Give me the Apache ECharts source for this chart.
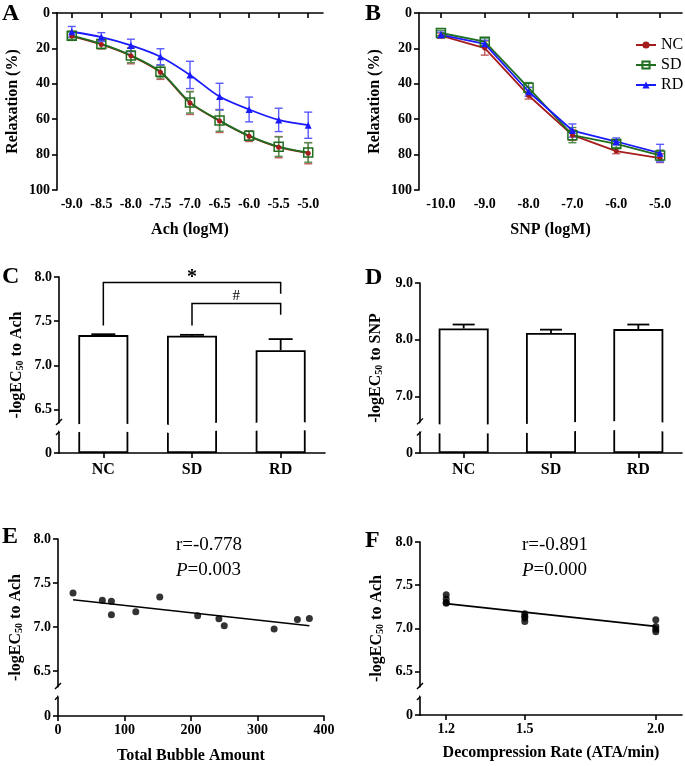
<!DOCTYPE html>
<html><head><meta charset="utf-8">
<script src="https://cdn.jsdelivr.net/npm/echarts@6/dist/echarts.min.js"></script>
<style>html,body{margin:0;padding:0;background:#fff}#c{width:685px;height:766px}</style>
</head><body><div id="c"></div>
<script>
// ---------- DATA ----------
const achX = [-9.0, -8.5, -8.0, -7.5, -7.0, -6.5, -6.0, -5.5, -5.0];
const achNC = [13.0, 17.8, 24.2, 33.5, 50.8, 61.0, 69.6, 75.8, 79.2];
const achNCerr = [2.5, 2.5, 4.5, 4.0, 6.5, 6.5, 3.0, 6.0, 6.0];
const achSD = [12.8, 17.5, 24.0, 33.2, 50.5, 60.8, 69.4, 75.5, 78.8];
const achSDerr = [2.0, 2.5, 4.0, 3.5, 6.0, 6.0, 2.5, 5.5, 5.5];
const achRD = [10.6, 13.6, 18.3, 24.7, 35.0, 47.2, 54.5, 60.4, 63.4];
const achRDerr = [3.0, 2.5, 3.5, 4.5, 7.7, 7.5, 7.0, 6.6, 7.4];

const snpX = [-10.0, -9.0, -8.0, -7.0, -6.0, -5.0];
const snpNC = [12.8, 19.8, 46.6, 69.0, 78.0, 82.0];
const snpNCerr = [1.5, 4.0, 2.0, 3.0, 1.5, 2.5];
const snpSD = [11.3, 16.2, 42.3, 69.0, 74.0, 80.5];
const snpSDerr = [1.5, 2.0, 3.0, 4.3, 2.0, 3.0];
const snpRD = [12.3, 17.4, 44.5, 66.4, 72.6, 79.2];
const snpRDerr = [1.5, 2.0, 2.5, 3.7, 2.0, 5.0];

const groups = ['NC', 'SD', 'RD'];
const achEC50 = [7.343, 7.336, 7.173];
const achEC50err = [0.01, 0.01, 0.125];
const snpEC50 = [8.20, 8.12, 8.19];
const snpEC50err = [0.07, 0.06, 0.08];

const sigBrackets = [[0, 2, 7.937, 7.453, 7.81], [1, 2, 7.70, 7.453, 7.574]];
const sigLabels = ['*', '#'];

const bubbleAmount = [22.6, 66.7, 80.3, 80.3, 117, 153, 210, 242, 250, 325, 360, 378];
const bubbleEC50 = [7.386, 7.303, 7.292, 7.140, 7.174, 7.341, 7.129, 7.095, 7.015, 6.977, 7.087, 7.098];
const fitE = [[22.6, 7.31], [378, 7.015]];

const rateX = [1.2, 1.2, 1.2, 1.2, 1.5, 1.5, 1.5, 1.5, 2.0, 2.0, 2.0, 2.0];
const rateEC50 = [7.39, 7.34, 7.30, 7.29, 7.17, 7.14, 7.12, 7.08, 7.10, 7.02, 6.99, 6.96];
const fitF = [[1.2, 7.286], [2.0, 7.023]];

const relaxTicks = [0, 20, 40, 60, 80, 100];
const rateTicks = [1.2, 1.5, 2.0];
const achTicksY = [0, 6.5, 7.0, 7.5, 8.0];
const snpTicksY = [0, 7.0, 8.0, 9.0];

// axis breaks [start, end] of each broken y axis (C, D, E, F)
const breakC = [0.25, 6.35];
const breakD = [0.38, 6.55];
const breakE = [0.23, 6.32];
const breakF = [0.22, 6.32];

// ---------- STYLE ----------
const FONT = '"Liberation Serif","Times New Roman",serif';
const C_NC = '#a51c1c', C_SD = '#1f6e1f', C_RD = '#1a1aff';
const C_NCe = '#c05a5a', C_SDe = '#4f8f4f', C_RDe = '#5a5aff';
const AL = {show: true, lineStyle: {color: '#000', width: 1.6}};
const AT = (cv) => ({show: true, length: 5, inside: false, lineStyle: {color: '#000', width: 1.6}, customValues: cv});
const LBL = (extra) => Object.assign({color: '#000', fontFamily: FONT, fontWeight: 'bold', fontSize: 14, margin: 7}, extra || {});
const NAME = {color: '#000', fontFamily: FONT, fontWeight: 'bold', fontSize: 16};
const NAMEEC = {color: '#000', fontFamily: FONT, fontWeight: 'bold', fontSize: 16,
  rich: {sub: {fontFamily: FONT, fontWeight: 'bold', fontSize: 10, padding: [7, 0, 0, 0]}}};
const f1 = v => (v === 0 ? '0' : v.toFixed(1));
const f0 = v => String(v);
const BREAKAREA = {show: true, itemStyle: {color: '#fff', borderWidth: 0, opacity: 1}, zigzagAmplitude: 2, zigzagMinSpan: 12, zigzagMaxSpan: 24, expandOnClick: false};

function pts(xs, ys, es) { return xs.map((x, i) => es ? [x, ys[i], es[i]] : [x, ys[i]]); }

function errSeries(xi, yi, data, color, capHalf, upOnly, lw) {
  return {
    type: 'custom', xAxisIndex: xi, yAxisIndex: yi, data: data, silent: true, z: 1,
    encode: {x: 0, y: 1},
    renderItem: function (params, api) {
      const x = api.value(0), y = api.value(1), e = api.value(2);
      const a = api.coord([x, y + e]);
      const b = api.coord([x, upOnly ? y : y - e]);
      const st = {stroke: color, lineWidth: lw || 1.4};
      const ch = [
        {type: 'line', shape: {x1: a[0], y1: a[1], x2: b[0], y2: b[1]}, style: st},
        {type: 'line', shape: {x1: a[0] - capHalf, y1: a[1], x2: a[0] + capHalf, y2: a[1]}, style: st}
      ];
      if (!upOnly) ch.push({type: 'line', shape: {x1: b[0] - capHalf, y1: b[1], x2: b[0] + capHalf, y2: b[1]}, style: st});
      return {type: 'group', children: ch};
    }
  };
}

// "//" marks on a broken y axis, placed through the axis scale at the break's edges
function breakMarks(xi, yi, xv, brk) {
  return {
    type: 'custom', xAxisIndex: xi, yAxisIndex: yi, data: [[xv, brk[0], brk[1]]], silent: true, z: 20,
    encode: {x: 0, y: 1},
    renderItem: function (params, api) {
      const x0 = params.coordSys.x;
      const lo = api.coord([api.value(0), api.value(1)])[1];
      const hi = api.coord([api.value(0), api.value(2)])[1];
      const st = {stroke: '#000', lineWidth: 1.4};
      return {type: 'group', children: [
        {type: 'line', shape: {x1: x0 - 3, y1: hi + 2, x2: x0 + 3, y2: hi - 4}, style: st},
        {type: 'line', shape: {x1: x0 - 3, y1: lo + 4, x2: x0 + 3, y2: lo - 2}, style: st}
      ]};
    }
  };
}

function lineSeries(name, xi, yi, data, color, symbol, size, smooth, hollow) {
  return {
    type: 'line', name: name, xAxisIndex: xi, yAxisIndex: yi, data: data, smooth: smooth, z: 3,
    symbol: symbol, symbolSize: size, showSymbol: true,
    lineStyle: {color: color, width: 1.8},
    itemStyle: hollow ? {color: 'rgba(255,255,255,0)', borderColor: color, borderWidth: 1.5} : {color: color},
    emphasis: {disabled: true}
  };
}

const option = {
  backgroundColor: '#fff',
  animation: false,
  textStyle: {fontFamily: FONT},
  grid: [
    {left: 57, top: 13, width: 266, height: 177},
    {left: 419, top: 13, width: 263, height: 177},
    {left: 59, top: 277, width: 266, height: 176},
    {left: 420, top: 283, width: 262, height: 170},
    {left: 58, top: 539, width: 266, height: 177},
    {left: 420, top: 542, width: 262, height: 173}
  ],
  legend: {
    data: groups, orient: 'vertical', left: 630, top: 32, itemWidth: 20, itemHeight: 9, itemGap: 4,
    textStyle: {fontFamily: FONT, fontSize: 16, color: '#000', lineHeight: 16}, selectedMode: false
  },
  xAxis: [
    {gridIndex: 0, type: 'value', min: -9.25, max: -4.75, axisLine: AL, axisTick: AT(achX),
      axisLabel: LBL({customValues: achX, formatter: f1}), splitLine: {show: false},
      name: 'Ach (logM)', nameLocation: 'middle', nameGap: 32, nameTextStyle: NAME},
    {gridIndex: 1, type: 'value', min: -10.5, max: -4.5, axisLine: AL, axisTick: AT(snpX),
      axisLabel: LBL({customValues: snpX, formatter: f1}), splitLine: {show: false},
      name: 'SNP (logM)', nameLocation: 'middle', nameGap: 32, nameTextStyle: NAME},
    {gridIndex: 2, type: 'category', data: groups, axisLine: AL,
      axisTick: {show: true, alignWithLabel: true, length: 5, lineStyle: {color: '#000', width: 1.6}},
      axisLabel: LBL({fontSize: 16, margin: 9})},
    {gridIndex: 3, type: 'category', data: groups, axisLine: AL,
      axisTick: {show: true, alignWithLabel: true, length: 5, lineStyle: {color: '#000', width: 1.6}},
      axisLabel: LBL({fontSize: 16, margin: 9})},
    {gridIndex: 4, type: 'value', min: 0, max: 400, interval: 100, axisLine: AL, axisTick: AT(),
      axisLabel: LBL({formatter: f0}), splitLine: {show: false},
      name: 'Total Bubble Amount', nameLocation: 'middle', nameGap: 32, nameTextStyle: NAME},
    {gridIndex: 5, type: 'value', min: 1.1, max: 2.1, axisLine: AL, axisTick: AT(rateTicks),
      axisLabel: LBL({customValues: rateTicks, formatter: f1}), splitLine: {show: false},
      name: 'Decompression Rate (ATA/min)', nameLocation: 'middle', nameGap: 30, nameTextStyle: NAME}
  ],
  yAxis: [
    {gridIndex: 0, type: 'value', inverse: true, min: 0, max: 100, interval: 20, axisLine: AL, axisTick: AT(),
      axisLabel: LBL({formatter: f0}), splitLine: {show: false},
      name: 'Relaxation (%)', nameLocation: 'middle', nameGap: 36, nameRotate: 90, nameTextStyle: NAME},
    {gridIndex: 1, type: 'value', inverse: true, min: 0, max: 100, interval: 20, axisLine: AL, axisTick: AT(),
      axisLabel: LBL({formatter: f0}), splitLine: {show: false},
      name: 'Relaxation (%)', nameLocation: 'middle', nameGap: 36, nameRotate: 90, nameTextStyle: NAME},
    {gridIndex: 2, type: 'value', min: 0, max: 8, interval: 0.5, axisLine: AL, axisTick: AT(achTicksY),
      axisLabel: LBL({customValues: achTicksY, formatter: f1}), splitLine: {show: false},
      breaks: [{start: breakC[0], end: breakC[1], gap: '4.5%'}], breakArea: BREAKAREA,
      name: '-logEC{sub|50} to Ach', nameLocation: 'middle', nameGap: 34, nameRotate: 90, nameTextStyle: NAMEEC},
    {gridIndex: 3, type: 'value', min: 0, max: 9, interval: 1, axisLine: AL, axisTick: AT(snpTicksY),
      axisLabel: LBL({customValues: snpTicksY, formatter: f1}), splitLine: {show: false},
      breaks: [{start: breakD[0], end: breakD[1], gap: '5.3%'}], breakArea: BREAKAREA,
      name: '-logEC{sub|50} to SNP', nameLocation: 'middle', nameGap: 36, nameRotate: 90, nameTextStyle: NAMEEC},
    {gridIndex: 4, type: 'value', min: 0, max: 8, interval: 0.5, axisLine: AL, axisTick: AT(achTicksY),
      axisLabel: LBL({customValues: achTicksY, formatter: f1}), splitLine: {show: false},
      breaks: [{start: breakE[0], end: breakE[1], gap: '5%'}], breakArea: BREAKAREA,
      name: '-logEC{sub|50} to Ach', nameLocation: 'middle', nameGap: 34, nameRotate: 90, nameTextStyle: NAMEEC},
    {gridIndex: 5, type: 'value', min: 0, max: 8, interval: 0.5, axisLine: AL, axisTick: AT(achTicksY),
      axisLabel: LBL({customValues: achTicksY, formatter: f1}), splitLine: {show: false},
      breaks: [{start: breakF[0], end: breakF[1], gap: '5.2%'}], breakArea: BREAKAREA,
      name: '-logEC{sub|50} to Ach', nameLocation: 'middle', nameGap: 35, nameRotate: 90, nameTextStyle: NAMEEC}
  ],
  series: [
    // A
    errSeries(0, 0, pts(achX, achNC, achNCerr), C_NCe, 4),
    errSeries(0, 0, pts(achX, achSD, achSDerr), C_SDe, 4),
    errSeries(0, 0, pts(achX, achRD, achRDerr), C_RDe, 4),
    lineSeries('NC', 0, 0, pts(achX, achNC), C_NC, 'circle', 5, 0.3),
    lineSeries('SD', 0, 0, pts(achX, achSD), C_SD, 'rect', 9, 0.3, true),
    lineSeries('RD', 0, 0, pts(achX, achRD), C_RD, 'triangle', 7, 0.3),
    // B
    errSeries(1, 1, pts(snpX, snpNC, snpNCerr), C_NCe, 4),
    errSeries(1, 1, pts(snpX, snpSD, snpSDerr), C_SDe, 4),
    errSeries(1, 1, pts(snpX, snpRD, snpRDerr), C_RDe, 4),
    lineSeries('NC', 1, 1, pts(snpX, snpNC), C_NC, 'circle', 5, false),
    lineSeries('SD', 1, 1, pts(snpX, snpSD), C_SD, 'rect', 9, false, true),
    lineSeries('RD', 1, 1, pts(snpX, snpRD), C_RD, 'triangle', 7, false),
    // C
    {type: 'bar', xAxisIndex: 2, yAxisIndex: 2, data: achEC50, barWidth: 50, z: 2,
      itemStyle: {color: '#fff', borderColor: '#000', borderWidth: 1.8}, emphasis: {disabled: true}},
    errSeries(2, 2, groups.map((g, i) => [i, achEC50[i], achEC50err[i]]), '#000', 12, true, 1.8),
    {type: 'custom', xAxisIndex: 2, yAxisIndex: 2, data: sigBrackets, silent: true, encode: {x: 0, y: 2},
      renderItem: function (params, api) {
        const a = api.value(0), b = api.value(1), top = api.value(2), yl = api.value(3), yr = api.value(4);
        const p1 = api.coord([a, yl]), p2 = api.coord([a, top]), p3 = api.coord([b, top]), p4 = api.coord([b, yr]);
        const star = params.dataIndex === 0;
        return {type: 'group', children: [
          {type: 'polyline', shape: {points: [p1, p2, p3, p4]}, style: {stroke: '#000', lineWidth: 1.5, fill: null}},
          {type: 'text', x: (p2[0] + p3[0]) / 2, y: p2[1] + (star ? 5 : 0),
            style: {text: sigLabels[params.dataIndex], textAlign: 'center', textVerticalAlign: 'bottom',
              fontFamily: FONT, fontSize: star ? 20 : 15, fontWeight: star ? 'bold' : 'normal', fill: '#000'}}
        ]};
      }},
    breakMarks(2, 2, 0, breakC),
    // D
    {type: 'bar', xAxisIndex: 3, yAxisIndex: 3, data: snpEC50, barWidth: 50, z: 2,
      itemStyle: {color: '#fff', borderColor: '#000', borderWidth: 1.8}, emphasis: {disabled: true}},
    errSeries(3, 3, groups.map((g, i) => [i, snpEC50[i], snpEC50err[i]]), '#000', 11, true, 1.8),
    breakMarks(3, 3, 0, breakD),
    // E
    {type: 'line', xAxisIndex: 4, yAxisIndex: 4, data: fitE, symbol: 'none', lineStyle: {color: '#000', width: 1.6}, z: 2},
    {type: 'scatter', xAxisIndex: 4, yAxisIndex: 4, data: pts(bubbleAmount, bubbleEC50), symbolSize: 7,
      itemStyle: {color: '#000'}, z: 3},
    breakMarks(4, 4, 0, breakE),
    // F
    {type: 'line', xAxisIndex: 5, yAxisIndex: 5, data: fitF, symbol: 'none', lineStyle: {color: '#000', width: 1.6}, z: 2},
    {type: 'scatter', xAxisIndex: 5, yAxisIndex: 5, data: pts(rateX, rateEC50), symbolSize: 7,
      itemStyle: {color: '#000'}, z: 3},
    breakMarks(5, 5, 1.2, breakF)
  ],
  graphic: [
    {type: 'text', left: 2, top: 2, style: {text: 'A', fontFamily: FONT, fontWeight: 'bold', fontSize: 24, fill: '#000'}},
    {type: 'text', left: 365, top: 2, style: {text: 'B', fontFamily: FONT, fontWeight: 'bold', fontSize: 24, fill: '#000'}},
    {type: 'text', left: 2, top: 265, style: {text: 'C', fontFamily: FONT, fontWeight: 'bold', fontSize: 24, fill: '#000'}},
    {type: 'text', left: 365, top: 266, style: {text: 'D', fontFamily: FONT, fontWeight: 'bold', fontSize: 24, fill: '#000'}},
    {type: 'text', left: 2, top: 525, style: {text: 'E', fontFamily: FONT, fontWeight: 'bold', fontSize: 24, fill: '#000'}},
    {type: 'text', left: 365, top: 529, style: {text: 'F', fontFamily: FONT, fontWeight: 'bold', fontSize: 24, fill: '#000'}},
    {type: 'text', left: 176, top: 536, style: {text: 'r=-0.778', fontFamily: FONT, fontSize: 19, fill: '#000'}},
    {type: 'text', left: 176, top: 561, style: {text: '{i|P}=0.003', fontFamily: FONT, fontSize: 19, fill: '#000',
      rich: {i: {fontFamily: FONT, fontSize: 19, fontStyle: 'italic'}}}},
    {type: 'text', left: 522, top: 536, style: {text: 'r=-0.891', fontFamily: FONT, fontSize: 19, fill: '#000'}},
    {type: 'text', left: 522, top: 561, style: {text: '{i|P}=0.000', fontFamily: FONT, fontSize: 19, fill: '#000',
      rich: {i: {fontFamily: FONT, fontSize: 19, fontStyle: 'italic'}}}}
  ]
};
const chart = echarts.init(document.getElementById('c'), null, {renderer: 'canvas'});
chart.setOption(option);
</script>
</body></html>
